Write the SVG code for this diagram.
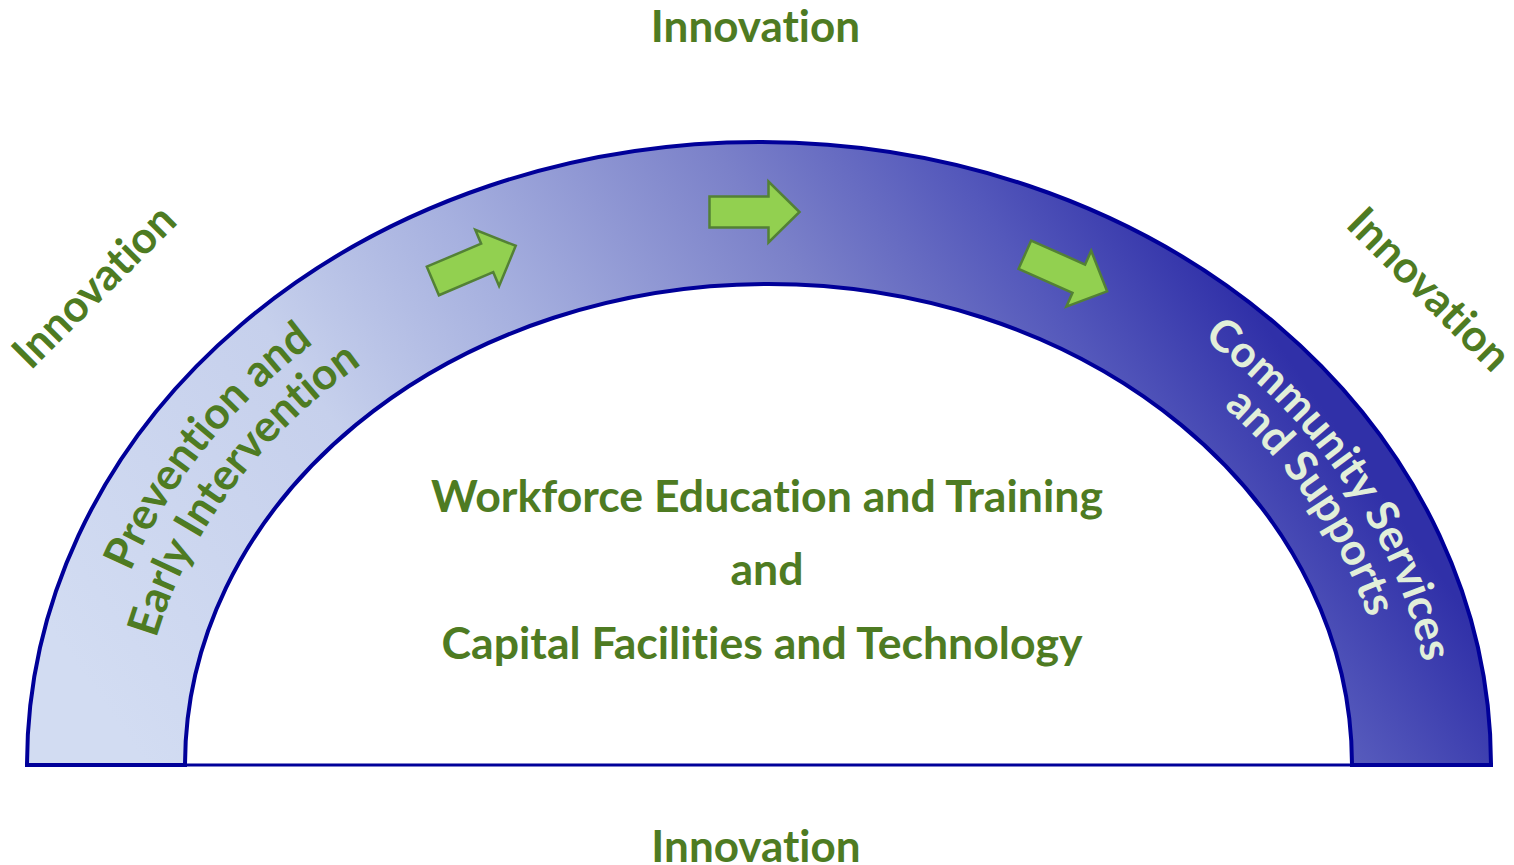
<svg xmlns="http://www.w3.org/2000/svg" width="1514" height="865" viewBox="0 0 1514 865">
  <defs>
    <linearGradient id="bandGrad" gradientUnits="userSpaceOnUse" x1="100" y1="700" x2="1058" y2="29">
      <stop offset="0" stop-color="#d2dcf2"/>
      <stop offset="0.3" stop-color="#c6d0ec"/>
      <stop offset="0.48" stop-color="#a6b0df"/>
      <stop offset="0.7" stop-color="#7b81c9"/>
      <stop offset="0.86" stop-color="#5458bb"/>
      <stop offset="1" stop-color="#3030a8"/>
    </linearGradient>
    <path id="arrowShape" d="M-45,-15.5 H14 V-30.5 L45,0 L14,30.5 V15.5 H-45 Z"/>
    <path id="pL1" d="M126.8,580.7 A672.6,566.2 0 0 1 321.5,337.7"/>
    <path id="pL2" d="M157.7,633.9 A628,523.6 0 0 1 357.8,366.9"/>
    <path id="pR1" d="M1207.6,342 A671.1,564.8 0 0 1 1421.7,657.2"/>
    <path id="pR2" d="M1225,407.9 A628,523.6 0 0 1 1367.8,616.3"/>
  </defs>
  <style>
    .lbl { font-family: Lato, "Open Sans", "Liberation Sans", sans-serif; font-weight: bold; font-size: 44px; fill: #4e7b22; font-variant-ligatures: none; font-feature-settings: "liga" 0, "clig" 0; }
    .mid { font-size: 44.6px; }
    .light { fill: #e2efd9; }
    .band { fill: url(#bandGrad); stroke: #000099; stroke-width: 4; stroke-linejoin: miter; }
    .base { stroke: #000099; stroke-width: 3; fill: none; }
    .arrow { fill: #92d050; stroke: #538135; stroke-width: 2.5; stroke-linejoin: miter; }
  </style>

  <g id="arch">
    <line class="base" x1="185" y1="765" x2="1352" y2="765"/>
    <path class="band" d="M27,765 A732,623 0 0 1 1491,765 L1352,765 A583.5,481 0 0 0 185,765 Z"/>
  </g>

  <g id="connectors">
    <use href="#arrowShape" class="arrow" transform="translate(474.3,263.4) rotate(-23)"/>
    <use href="#arrowShape" class="arrow" transform="translate(754.5,212)"/>
    <use href="#arrowShape" class="arrow" transform="translate(1066,273) rotate(24)"/>
  </g>

  <g id="prevention">
    <text class="lbl"><textPath href="#pL1" startOffset="50%" text-anchor="middle">Prevention and</textPath></text>
    <text class="lbl"><textPath href="#pL2" startOffset="50%" text-anchor="middle">Early Intervention</textPath></text>
  </g>

  <g id="community">
    <text class="lbl light"><textPath href="#pR1" startOffset="50%" text-anchor="middle">Community Services</textPath></text>
    <text class="lbl light"><textPath href="#pR2" startOffset="50%" text-anchor="middle">and Supports</textPath></text>
  </g>

  <g id="center">
    <text class="lbl mid" x="767" y="512" text-anchor="middle">Workforce Education and Training</text>
    <text class="lbl mid" x="767" y="585" text-anchor="middle">and</text>
    <text class="lbl mid" x="762" y="659" text-anchor="middle">Capital Facilities and Technology</text>
  </g>

  <g id="innovation-top">
    <text class="lbl" x="755.5" y="42" text-anchor="middle">Innovation</text>
  </g>
  <g id="innovation-bottom">
    <text class="lbl" x="756" y="862" text-anchor="middle">Innovation</text>
  </g>
  <g id="innovation-left">
    <text class="lbl" transform="translate(104.8,297) rotate(-45)" text-anchor="middle">Innovation</text>
  </g>
  <g id="innovation-right">
    <text class="lbl" transform="translate(1418.5,300) rotate(45)" text-anchor="middle">Innovation</text>
  </g>
</svg>
